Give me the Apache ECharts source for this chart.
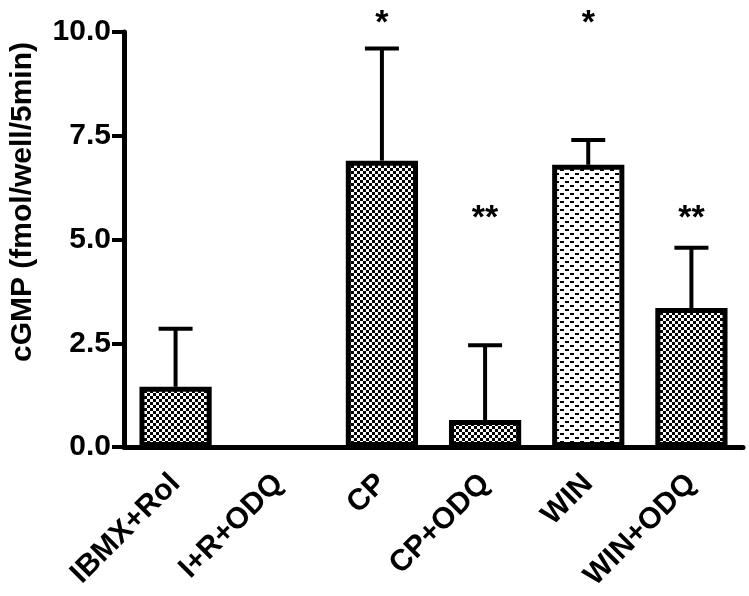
<!DOCTYPE html>
<html>
<head>
<meta charset="utf-8">
<script src="https://cdn.jsdelivr.net/npm/echarts@6/dist/echarts.min.js"></script>
<style>
  html, body { margin: 0; padding: 0; background: #fff; }
  #chart { width: 749px; height: 596px; }
</style>
</head>
<body>
<div id="chart"></div>
<script>
const categories = ['IBMX+Rol', 'I+R+ODQ', 'CP', 'CP+ODQ', 'WIN', 'WIN+ODQ'];
const means = [1.45, 0, 6.9, 0.65, 6.8, 3.35];
const errors = [1.4, 0, 2.7, 1.8, 0.6, 1.45];
const stars = ['', '', '*', '**', '*', '**'];
const starLevels = [null, null, 10.2, 5.5, 10.2, 5.5];
const yTicks = ['0.0', '2.5', '5.0', '7.5', '10.0'];

// checkerboard fill
function checkerPattern() {
  const c = document.createElement('canvas');
  c.width = 6; c.height = 6;
  const g = c.getContext('2d');
  g.fillStyle = '#fff';
  g.fillRect(0, 0, 6, 6);
  g.fillStyle = '#000';
  g.fillRect(0, 0, 3, 3);
  g.fillRect(3, 3, 3, 3);
  return c;
}

// short staggered dashes (WIN)
function dashPattern() {
  const c = document.createElement('canvas');
  c.width = 10; c.height = 8;
  const g = c.getContext('2d');
  g.fillStyle = '#fff';
  g.fillRect(0, 0, 10, 8);
  g.fillStyle = '#000';
  g.fillRect(0, 1, 4, 2);
  g.fillRect(5, 5, 4, 2);
  return c;
}

const checker = { image: checkerPattern(), repeat: 'repeat' };
const dashes = { image: dashPattern(), repeat: 'repeat' };

const chart = echarts.init(document.getElementById('chart'));
const font = 'Liberation Sans, Arial, sans-serif';

const option = {
  animation: false,
  backgroundColor: '#fff',
  grid: { left: 124, right: 6, top: 32, bottom: 149 },
  xAxis: {
    type: 'category',
    data: categories,
    axisLine: { lineStyle: { color: '#000', width: 5 } },
    axisTick: { alignWithLabel: true, length: 10, lineStyle: { color: '#000', width: 4 } },
    axisLabel: {
      rotate: 45, margin: 32, color: '#000',
      fontFamily: font, fontWeight: 'bold', fontSize: 30
    }
  },
  yAxis: {
    type: 'value',
    min: 0, max: 10, interval: 2.5,
    splitLine: { show: false },
    axisLine: { show: true, lineStyle: { color: '#000', width: 5 } },
    axisTick: { show: true, length: 12, lineStyle: { color: '#000', width: 4 } },
    axisLabel: {
      margin: 13, color: '#000',
      fontFamily: font, fontWeight: 'bold', fontSize: 30,
      formatter: v => yTicks[Math.round(v / 2.5)]
    }
  },
  graphic: [{
    type: 'text',
    x: 23, y: 202,
    rotation: Math.PI / 2,
    style: {
      text: 'cGMP (fmol/well/5min)',
      fill: '#000',
      font: 'bold 30px Liberation Sans, Arial, sans-serif',
      textAlign: 'center',
      textVerticalAlign: 'middle'
    }
  }],
  series: [
    {
      type: 'custom',
      z: 1,
      data: means.map((m, i) => [i, m, errors[i]]),
      renderItem: function (params, api) {
        const err = api.value(2);
        if (!err) return null;
        const i = api.value(0);
        const m = api.value(1);
        const base = api.coord([i, m]);
        const top = api.coord([i, m + err]);
        return {
          type: 'group',
          children: [
            { type: 'line', shape: { x1: base[0], y1: base[1], x2: top[0], y2: top[1] },
              style: { stroke: '#000', lineWidth: 4 } },
            { type: 'line', shape: { x1: top[0] - 17, y1: top[1], x2: top[0] + 17, y2: top[1] },
              style: { stroke: '#000', lineWidth: 4 } }
          ]
        };
      }
    },
    {
      type: 'bar',
      z: 2,
      barWidth: '70%',
      data: means.map((m, i) => ({
        value: m,
        itemStyle: {
          color: i === 4 ? dashes : checker,
          borderColor: m ? '#000' : 'transparent',
          borderWidth: 5
        }
      }))
    },
    {
      type: 'custom',
      z: 3,
      data: stars.map((s, i) => [i, starLevels[i], s]),
      renderItem: function (params, api) {
        const i = params.dataIndex;
        if (!stars[i]) return null;
        const p = api.coord([i, starLevels[i]]);
        return {
          type: 'text',
          x: p[0], y: p[1],
          style: {
            text: stars[i],
            fill: '#000',
            font: 'bold 34px Liberation Sans, Arial, sans-serif',
            textAlign: 'center',
            textVerticalAlign: 'middle'
          }
        };
      }
    }
  ]
};

chart.setOption(option);
</script>
</body>
</html>
